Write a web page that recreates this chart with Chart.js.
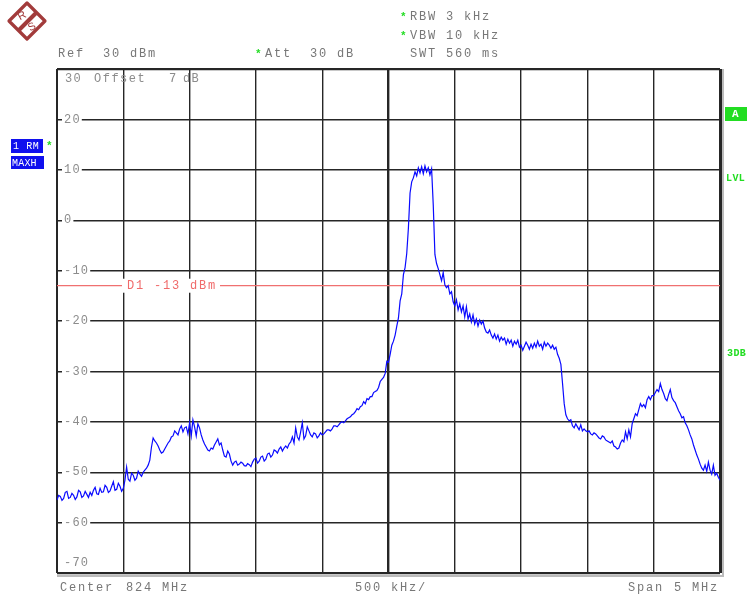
<!DOCTYPE html>
<html>
<head>
<meta charset="utf-8">
<script src="https://cdn.jsdelivr.net/npm/chart.js@4.4.1/dist/chart.umd.min.js"></script>
<style>
  html, body { margin: 0; padding: 0; background: #fff; }
  #wrap { width: 748px; height: 596px; }
</style>
</head>
<body>
<div id="wrap"><canvas id="spectrum" width="748" height="596"></canvas></div>
<script>
// sweep settings (center 824 MHz, span 5 MHz, 12.5 kHz per trace point)
const startMHz = 821.5;
const stopMHz = 826.5;
const stepMHz = 0.0125;
const divMHz = 0.5;

// trace 1 (RM / MAXH), dBm
const levelDbm = [
  -55.5, -54.6, -54.8, -55.6, -55.2, -54.0, -53.8, -55.2, -55.0, -54.2, -54.6, -55.4, -54.9, -53.6, -53.9, -55.0, -54.7, -53.8, -54.4, -55.0,
  -54.0, -54.6, -53.6, -53.0, -54.3, -54.4, -53.2, -54.0, -53.9, -52.6, -53.0, -54.0, -53.7, -52.8, -51.9, -53.6, -53.4, -52.2, -52.8, -53.8,
  -53.2, -51.6, -49.0, -51.4, -51.8, -50.2, -50.6, -51.6, -51.2, -49.8, -50.4, -50.8, -50.0, -49.6, -49.2, -48.6, -47.6, -45.0, -43.2, -43.8,
  -44.2, -44.8, -45.6, -46.2, -46.0, -45.4, -44.8, -44.2, -43.8, -43.0, -42.8, -41.8, -42.2, -42.6, -41.4, -40.8, -42.0, -41.2, -41.0, -42.4,
  -40.2, -42.8, -39.6, -41.0, -42.8, -40.4, -41.2, -42.6, -43.6, -44.4, -45.0, -45.6, -45.8, -45.2, -45.4, -44.6, -44.0, -43.4, -44.6, -44.2,
  -45.6, -46.8, -47.0, -45.8, -46.4, -47.8, -48.6, -48.0, -47.8, -48.6, -48.4, -48.0, -48.2, -48.7, -48.8, -48.3, -48.5, -48.9, -48.0, -47.4,
  -47.2, -48.2, -47.8, -47.0, -46.8, -47.8, -47.4, -46.4, -46.2, -47.0, -46.6, -45.6, -45.8, -46.2, -45.4, -45.0, -45.8, -45.2, -44.8, -45.2,
  -44.4, -44.0, -43.0, -44.2, -41.2, -43.0, -43.6, -42.0, -40.2, -43.4, -42.8, -41.0, -41.8, -42.6, -43.0, -42.2, -42.4, -43.2, -42.8, -42.2,
  -42.6, -42.4, -42.0, -41.6, -41.6, -41.8, -41.4, -40.8, -40.8, -41.0, -40.6, -40.2, -40.0, -40.2, -39.8, -39.4, -39.2, -39.0, -38.6, -38.4,
  -38.0, -37.4, -37.6, -37.0, -36.8, -36.0, -36.4, -35.4, -35.6, -35.0, -35.0, -34.2, -34.0, -33.8, -33.2, -32.0, -31.6, -31.2, -30.4, -28.0,
  -28.2, -26.6, -24.8, -24.0, -22.8, -21.0, -19.4, -16.0, -14.6, -10.8, -9.4, -6.6, -1.6, 5.4, 7.6, 8.4, 9.6, 8.8, 10.4, 9.4,
  10.6, 9.2, 10.8, 9.6, 10.4, 9.0, 10.2, 3.0, -6.8, -8.6, -9.6, -10.8, -12.0, -10.4, -12.8, -13.4, -13.0, -14.6, -14.2, -16.2,
  -17.0, -15.8, -17.8, -16.6, -18.2, -17.0, -19.2, -17.2, -19.6, -18.6, -20.2, -18.8, -20.6, -19.6, -21.0, -19.8, -20.6, -20.0, -21.4, -22.2,
  -22.4, -21.8, -22.8, -23.4, -22.6, -23.6, -22.8, -24.0, -23.2, -23.8, -23.4, -24.6, -23.6, -24.4, -23.8, -25.0, -24.0, -24.6, -23.8, -25.2,
  -24.8, -25.8, -25.0, -24.2, -24.8, -25.6, -24.6, -25.4, -24.4, -25.2, -24.0, -25.0, -24.6, -25.6, -24.2, -25.0, -24.4, -24.8, -25.4, -24.8,
  -25.6, -25.2, -26.6, -27.4, -28.6, -32.4, -36.4, -38.6, -39.4, -39.8, -39.6, -40.8, -41.2, -40.4, -41.0, -41.6, -40.6, -41.8, -41.4, -41.8,
  -42.0, -41.8, -42.4, -42.6, -42.2, -42.4, -42.8, -43.2, -43.4, -42.8, -43.0, -43.6, -43.8, -44.0, -44.2, -43.8, -44.8, -45.0, -45.4, -45.2,
  -44.2, -43.6, -44.0, -42.0, -43.4, -41.6, -43.0, -40.4, -39.4, -38.4, -38.8, -37.6, -36.4, -37.0, -36.6, -37.2, -35.6, -35.0, -35.6, -34.8,
  -34.8, -34.2, -33.6, -34.0, -32.4, -33.6, -34.4, -35.4, -35.8, -34.6, -33.6, -35.2, -35.8, -36.2, -37.0, -37.8, -38.4, -39.2, -39.0, -40.2,
  -40.8, -41.6, -42.6, -43.4, -44.6, -45.6, -46.6, -47.4, -48.4, -49.2, -49.6, -48.6, -49.8, -48.0, -49.6, -50.4, -48.6, -50.6, -50.2, -51.0,
  -51.6
];

// display line D1
const d1Level = -13;
const d1Label = 'D1 -13 dBm';

// level axis
const refLevel = 30;
const bottomLevel = -70;
const yTickValues = [20, 10, 0, -10, -20, -30, -40, -50, -60, -70];
const yTickLabels = ['20', '10', '0', '-10', '-20', '-30', '-40', '-50', '-60', '-70'];

const MONO = '12px "Liberation Mono", "DejaVu Sans Mono", monospace';
const GRAY = '#777';
const GREEN = '#22dd22';

const tracePoints = levelDbm.map((v, i) => ({ x: startMHz + i * stepMHz, y: v }));

function txt(ctx, s, x, y, color, opts) {
  opts = opts || {};
  ctx.save();
  ctx.font = opts.font || MONO;
  ctx.letterSpacing = opts.spacing || '1.8px';
  ctx.textAlign = 'left';
  ctx.textBaseline = 'middle';
  if (opts.bg) {
    const w = ctx.measureText(s).width;
    ctx.fillStyle = opts.bg;
    ctx.fillRect(x - (opts.padL || 2), y - 7, w + (opts.padL || 2) + (opts.padR || 2), 14);
  }
  ctx.fillStyle = color;
  ctx.fillText(s, x, y);
  ctx.restore();
}

function star(ctx, x, y) {
  txt(ctx, '*', x, y + 1, GREEN, { font: 'bold 11px "Liberation Mono", monospace', spacing: '0px' });
}

function drawLogo(ctx) {
  ctx.save();
  ctx.translate(27, 21);
  ctx.strokeStyle = '#a23b3b';
  ctx.lineWidth = 3.2;
  ctx.lineJoin = 'round';
  ctx.beginPath();
  ctx.moveTo(0, -18); ctx.lineTo(18, 0); ctx.lineTo(0, 18); ctx.lineTo(-18, 0);
  ctx.closePath();
  ctx.stroke();
  ctx.lineWidth = 4;
  ctx.beginPath();
  ctx.moveTo(-8, 9); ctx.lineTo(9, -8);
  ctx.stroke();
  ctx.fillStyle = '#a23b3b';
  ctx.font = '11px "Liberation Sans", sans-serif';
  ctx.textAlign = 'center';
  ctx.textBaseline = 'middle';
  ctx.save(); ctx.translate(-5, -5); ctx.rotate(-0.5); ctx.fillText('R', 0, 0); ctx.restore();
  ctx.save(); ctx.translate(5, 6); ctx.rotate(-0.5); ctx.fillText('S', 0, 0); ctx.restore();
  ctx.restore();
}

const annotations = {
  id: 'annotations',
  afterDatasetsDraw(chart) {
    const ctx = chart.ctx;
    const area = chart.chartArea;
    const ys = chart.scales.y;

    // shadow on right / bottom frame
    ctx.save();
    ctx.strokeStyle = '#bbb';
    ctx.lineWidth = 2;
    ctx.beginPath();
    ctx.moveTo(area.right + 3, area.top);
    ctx.lineTo(area.right + 3, area.bottom + 3);
    ctx.lineTo(area.left, area.bottom + 3);
    ctx.stroke();
    ctx.restore();

    // level labels inside the grid
    yTickValues.forEach((v, i) => {
      let py = ys.getPixelForValue(v);
      if (v === bottomLevel) py -= 10;
      txt(ctx, yTickLabels[i], area.left + 7, py, '#8c8c8c', { bg: '#fff', spacing: '1.2px', padL: 2, padR: 1 });
    });
    txt(ctx, '30', area.left + 8, area.top + 10, '#8c8c8c', { spacing: '1.2px' });
    txt(ctx, 'Offset', 94, area.top + 10, '#8c8c8c', { spacing: '1.5px' });
    txt(ctx, '7', 169, area.top + 10, '#8c8c8c');
    txt(ctx, 'dB', 183, area.top + 10, '#8c8c8c', { spacing: '1.2px' });

    // D1 label
    txt(ctx, d1Label, 127, ys.getPixelForValue(d1Level), '#f06a6a', { bg: '#fff', padL: 5, padR: 3 });

    // header
    drawLogo(ctx);
    txt(ctx, 'Ref', 58, 54, GRAY);
    txt(ctx, '30 dBm', 103, 54, GRAY);
    star(ctx, 255, 53);
    txt(ctx, 'Att', 265, 54, GRAY);
    txt(ctx, '30 dB', 310, 54, GRAY);
    star(ctx, 400, 16);
    txt(ctx, 'RBW 3 kHz', 410, 17, GRAY);
    star(ctx, 400, 35);
    txt(ctx, 'VBW 10 kHz', 410, 36, GRAY);
    txt(ctx, 'SWT 560 ms', 410, 54, GRAY);

    // trace info boxes
    ctx.save();
    ctx.fillStyle = '#1010ee';
    ctx.fillRect(11, 139, 32, 14);
    ctx.fillRect(11, 156, 33, 13);
    ctx.restore();
    txt(ctx, '1 RM', 13, 146, '#fff', { font: '10px "Liberation Mono", monospace', spacing: '0.6px' });
    txt(ctx, 'MAXH', 12, 163, '#fff', { font: '10px "Liberation Mono", monospace', spacing: '0.2px' });
    star(ctx, 46, 145);

    // right hand side markers
    ctx.save();
    ctx.fillStyle = GREEN;
    ctx.fillRect(725, 107, 22, 14);
    ctx.restore();
    txt(ctx, 'A', 732, 114, '#fff', { font: 'bold 11px "Liberation Mono", monospace', spacing: '0px' });
    txt(ctx, 'LVL', 726, 178, GREEN, { font: 'bold 10px "Liberation Mono", monospace', spacing: '0.4px' });
    txt(ctx, '3DB', 727, 353, GREEN, { font: 'bold 10px "Liberation Mono", monospace', spacing: '0.4px' });

    // footer
    txt(ctx, 'Center', 60, 588, GRAY);
    txt(ctx, '824 MHz', 126, 588, GRAY);
    txt(ctx, '500 kHz/', 355, 588, GRAY);
    txt(ctx, 'Span', 628, 588, GRAY);
    txt(ctx, '5 MHz', 674, 588, GRAY);
  }
};

new Chart(document.getElementById('spectrum'), {
  type: 'line',
  data: {
    datasets: [
      {
        label: 'Trace 1',
        data: tracePoints,
        borderColor: '#0a0aff',
        borderWidth: 1.2,
        pointRadius: 0,
        tension: 0
      },
      {
        label: 'D1',
        data: [{ x: startMHz, y: d1Level }, { x: stopMHz, y: d1Level }],
        borderColor: '#f07070',
        borderWidth: 1.3,
        pointRadius: 0
      }
    ]
  },
  options: {
    responsive: false,
    animation: false,
    devicePixelRatio: 1,
    layout: { padding: { left: 57, top: 69, right: 28, bottom: 23 } },
    plugins: {
      legend: { display: false },
      tooltip: { enabled: false }
    },
    scales: {
      x: {
        type: 'linear',
        min: startMHz,
        max: stopMHz,
        ticks: { display: false, stepSize: divMHz },
        border: { display: false },
        grid: {
          drawTicks: false,
          color: '#262626',
          lineWidth: ctx => {
            const v = Math.round(ctx.tick.value * 10) / 10;
            if (v === 824) return 2.4;
            if (v === stopMHz) return 3;
            if (v === startMHz) return 2;
            return 1.4;
          }
        }
      },
      y: {
        type: 'linear',
        min: bottomLevel,
        max: refLevel,
        ticks: { display: false, stepSize: 10 },
        border: { display: false },
        grid: {
          drawTicks: false,
          color: '#262626',
          lineWidth: ctx => (ctx.tick.value === refLevel || ctx.tick.value === bottomLevel) ? 2.2 : 1.4
        }
      }
    }
  },
  plugins: [annotations]
});
</script>
</body>
</html>
